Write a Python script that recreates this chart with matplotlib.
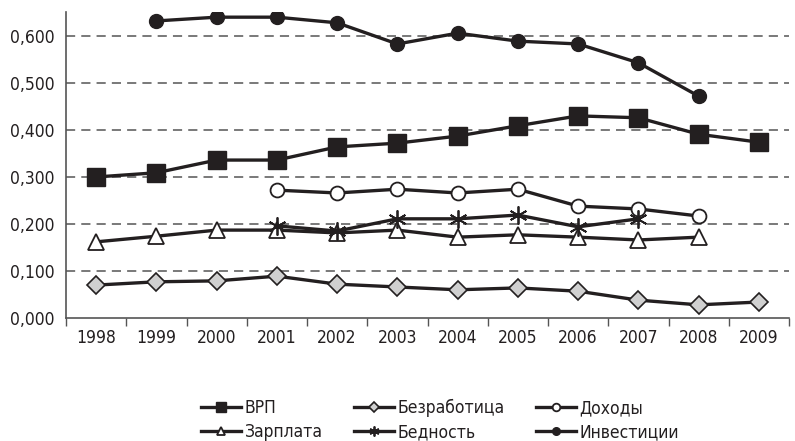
import matplotlib
matplotlib.use("Agg")
import matplotlib.pyplot as plt
from matplotlib.ticker import FuncFormatter
import numpy as np

plt.rcParams['font.family'] = ['DejaVu Sans']
plt.rcParams['font.stretch'] = 'condensed'

years = ['1998', '1999', '2000', '2001', '2002', '2003', '2004', '2005', '2006', '2007', '2008', '2009']
vrp = [0.300, 0.309, 0.336, 0.336, 0.364, 0.372, 0.387, 0.409, 0.430, 0.426, 0.391, 0.374]
unemployment = [0.070, 0.077, 0.079, 0.089, 0.072, 0.066, 0.060, 0.064, 0.057, 0.038, 0.028, 0.034]
income = [None, None, None, 0.272, 0.266, 0.274, 0.266, 0.274, 0.238, 0.232, 0.217, None]
wage = [0.162, 0.174, 0.187, 0.187, 0.181, 0.187, 0.172, 0.177, 0.172, 0.166, 0.172, None]
poverty = [None, None, None, 0.196, 0.185, 0.211, 0.211, 0.219, 0.194, 0.211, None, None]
investment = [None, 0.632, 0.640, 0.640, 0.628, 0.583, 0.606, 0.589, 0.583, 0.543, 0.472, None]

dark = '#231f20'
fig = plt.figure(figsize=(7.95, 4.41), dpi=100)
ax = fig.add_axes([66/795, 1-318/441, (789-66)/795, (318-12)/441])

x = np.arange(len(years))

def arr(v):
    return np.array([np.nan if a is None else a for a in v], dtype=float)

lw = 2.4
ax.plot(x, arr(vrp), color=dark, lw=lw, marker='s', ms=13, mfc=dark, mec=dark, label='ВРП', zorder=3)
ax.plot(x, arr(unemployment), color=dark, lw=lw, marker='D', ms=9.5, mfc='#d0d0d0', mec=dark, mew=1.2, label='Безработица', zorder=3)
ax.plot(x, arr(income), color=dark, lw=lw, marker='o', ms=10, mfc='white', mec=dark, mew=1.3, label='Доходы', zorder=3)
ax.plot(x, arr(wage), color=dark, lw=lw, marker='^', ms=11, mfc='white', mec=dark, mew=1.3, label='Зарплата', zorder=3)
ax.plot(x, arr(poverty), color=dark, lw=lw, marker=(6, 2, 0), ms=13, mfc=dark, mec=dark, mew=1.3, label='Бедность', zorder=3)
ax.plot(x, arr(investment), color=dark, lw=lw, marker='o', ms=10, mfc=dark, mec=dark, label='Инвестиции', zorder=3)

ax.set_xlim(-0.5, len(years) - 0.5)
ax.set_ylim(0, 0.651)
ax.set_yticks([0, 0.1, 0.2, 0.3, 0.4, 0.5, 0.6])
ax.yaxis.set_major_formatter(FuncFormatter(lambda v, p: f"{v:.3f}".replace('.', ',')))
ax.set_xticks(x)
ax.set_xticklabels(years)
ax.set_xticks(np.arange(-0.5, len(years), 1), minor=True)
ax.tick_params(axis='x', which='major', length=0, pad=8, labelsize=12.5, colors=dark)
ax.tick_params(axis='x', which='minor', length=6, width=1, color='#555555', direction='out')
ax.tick_params(axis='y', length=0, pad=8, labelsize=12.5, colors=dark)

for yv in [0.1, 0.2, 0.3, 0.4, 0.5, 0.6]:
    ax.axhline(yv, color='#555555', lw=1.1, ls=(0, (6, 4)), zorder=1)

for s in ['top', 'right']:
    ax.spines[s].set_visible(False)
ax.spines['left'].set_color('#555555')
ax.spines['bottom'].set_color('#555555')
ax.spines['left'].set_linewidth(1.2)
ax.spines['bottom'].set_linewidth(1.2)

handles, labels = ax.get_legend_handles_labels()
order = [0, 3, 1, 4, 2, 5]
leg = fig.legend([handles[i] for i in order], [labels[i] for i in order],
                 loc='center', bbox_to_anchor=(440/795, 1-420/441), ncol=3,
                 frameon=False, markerscale=0.55, fontsize=12.5, handlelength=2.3,
                 handletextpad=0.2, columnspacing=1.8, labelspacing=0.35)
for t in leg.get_texts():
    t.set_color(dark)

fig.savefig('out.png', dpi=100)
